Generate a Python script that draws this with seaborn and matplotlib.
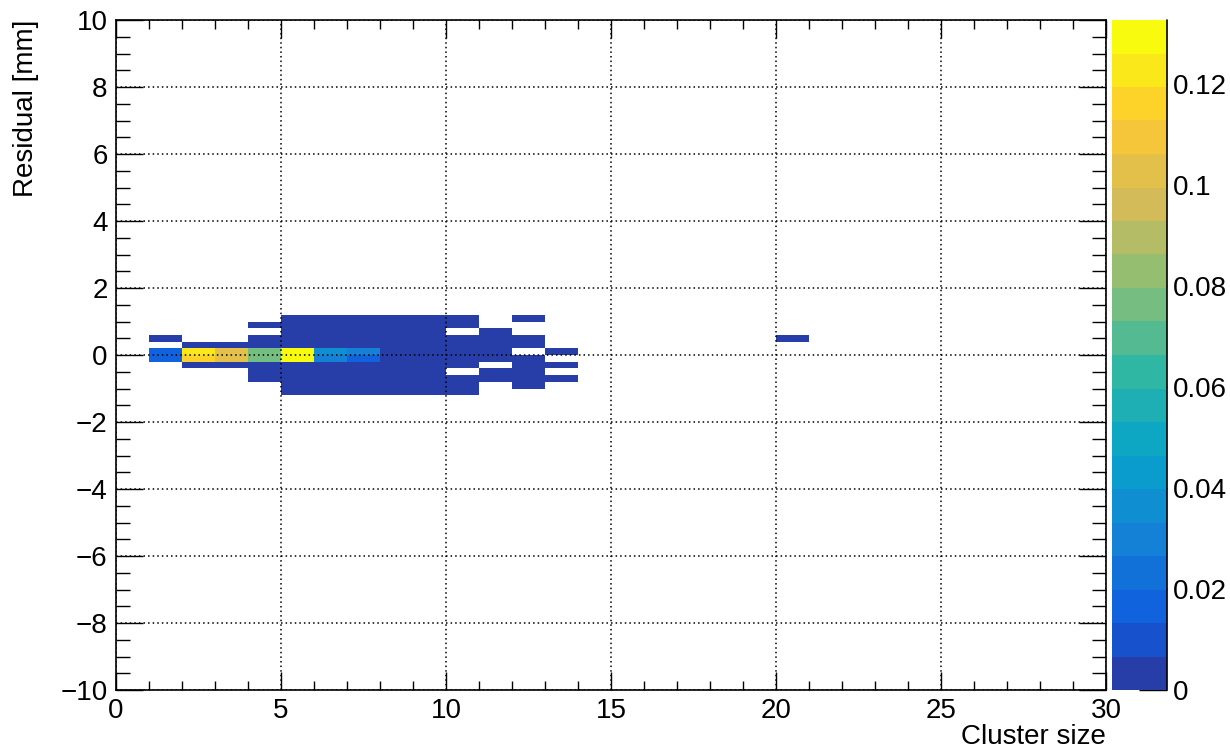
import numpy as np
import pandas as pd
import matplotlib
matplotlib.use("Agg")
import matplotlib.pyplot as plt
import seaborn as sns
from matplotlib.colors import LinearSegmentedColormap, ListedColormap
from matplotlib.ticker import MultipleLocator, FuncFormatter
from matplotlib.lines import Line2D

# ---------------- data (bin centres and bin contents) ----------------
cluster_size = [
    1.5, 1.5, 1.5,
    2.5, 2.5, 2.5, 2.5,
    3.5, 3.5, 3.5, 3.5,
    4.5, 4.5, 4.5, 4.5, 4.5, 4.5, 4.5, 4.5,
    5.5, 5.5, 5.5, 5.5, 5.5, 5.5, 5.5, 5.5, 5.5, 5.5, 5.5, 5.5,
    6.5, 6.5, 6.5, 6.5, 6.5, 6.5, 6.5, 6.5, 6.5, 6.5, 6.5, 6.5,
    7.5, 7.5, 7.5, 7.5, 7.5, 7.5, 7.5, 7.5, 7.5, 7.5, 7.5, 7.5,
    8.5, 8.5, 8.5, 8.5, 8.5, 8.5, 8.5, 8.5, 8.5, 8.5, 8.5, 8.5,
    9.5, 9.5, 9.5, 9.5, 9.5, 9.5, 9.5, 9.5, 9.5, 9.5, 9.5, 9.5,
    10.5, 10.5, 10.5, 10.5, 10.5, 10.5, 10.5, 10.5, 10.5, 10.5,
    11.5, 11.5, 11.5, 11.5, 11.5, 11.5, 11.5,
    12.5, 12.5, 12.5, 12.5, 12.5, 12.5, 12.5, 12.5,
    13.5, 13.5, 13.5,
    20.5,
]
residual = [
    0.5, 0.1, -0.1,
    0.3, 0.1, -0.1, -0.3,
    0.3, 0.1, -0.1, -0.3,
    0.9, 0.5, 0.3, 0.1, -0.1, -0.3, -0.5, -0.7,
    1.1, 0.9, 0.7, 0.5, 0.3, 0.1, -0.1, -0.3, -0.5, -0.7, -0.9, -1.1,
    1.1, 0.9, 0.7, 0.5, 0.3, 0.1, -0.1, -0.3, -0.5, -0.7, -0.9, -1.1,
    1.1, 0.9, 0.7, 0.5, 0.3, 0.1, -0.1, -0.3, -0.5, -0.7, -0.9, -1.1,
    1.1, 0.9, 0.7, 0.5, 0.3, 0.1, -0.1, -0.3, -0.5, -0.7, -0.9, -1.1,
    1.1, 0.9, 0.7, 0.5, 0.3, 0.1, -0.1, -0.3, -0.5, -0.7, -0.9, -1.1,
    1.1, 0.9, 0.5, 0.3, 0.1, -0.1, -0.3, -0.7, -0.9, -1.1,
    0.7, 0.5, 0.3, 0.1, -0.1, -0.5, -0.7,
    1.1, 0.5, 0.3, -0.1, -0.3, -0.5, -0.7, -0.9,
    0.1, -0.3, -0.7,
    0.5,
]
content = [
    0.004, 0.018, 0.016,
    0.003, 0.122, 0.119, 0.003,
    0.005, 0.101, 0.106, 0.004,
    0.002, 0.003, 0.005, 0.076, 0.073, 0.005, 0.003, 0.002,
    0.002, 0.002, 0.003, 0.004, 0.005, 0.131, 0.128, 0.005, 0.004, 0.003, 0.002, 0.002,
    0.002, 0.002, 0.003, 0.004, 0.005, 0.034, 0.031, 0.005, 0.004, 0.003, 0.002, 0.002,
    0.002, 0.002, 0.003, 0.003, 0.004, 0.027, 0.014, 0.004, 0.003, 0.003, 0.002, 0.002,
    0.001, 0.002, 0.002, 0.003, 0.004, 0.006, 0.005, 0.004, 0.003, 0.002, 0.002, 0.001,
    0.001, 0.001, 0.002, 0.002, 0.003, 0.004, 0.004, 0.003, 0.002, 0.002, 0.001, 0.001,
    0.001, 0.001, 0.001, 0.002, 0.003, 0.003, 0.002, 0.001, 0.001, 0.001,
    0.001, 0.001, 0.002, 0.002, 0.002, 0.001, 0.001,
    0.001, 0.001, 0.001, 0.002, 0.001, 0.001, 0.001, 0.001,
    0.001, 0.001, 0.001,
    0.001,
]
colorbar_ticks = [0.0, 0.02, 0.04, 0.06, 0.08, 0.10, 0.12]
z_max = 0.1327

df = pd.DataFrame({"cluster_size": cluster_size,
                   "residual": residual,
                   "content": content})

# histogram binning: 30 bins in cluster size, 100 bins in residual
x_edges = np.linspace(0, 30, 31)
y_edges = np.linspace(-10, 10, 101)

# ---------------- ROOT "kBird" palette, 20 contour levels ----------------
stops = [0.0, 0.125, 0.25, 0.375, 0.5, 0.625, 0.75, 0.875, 1.0]
red = [0.2082, 0.0592, 0.0780, 0.0232, 0.1802, 0.5301, 0.8186, 0.9956, 0.9764]
green = [0.1664, 0.3599, 0.5041, 0.6419, 0.7178, 0.7492, 0.7328, 0.7862, 0.9832]
blue = [0.5293, 0.8684, 0.8385, 0.7914, 0.6425, 0.4662, 0.3499, 0.1968, 0.0539]
bird = LinearSegmentedColormap.from_list(
    "bird", list(zip(stops, zip(red, green, blue))))
n_levels = 20
level_pos = np.floor((np.arange(n_levels) + 0.99) * 255 / n_levels) / 254.0
cmap = ListedColormap(bird(np.clip(level_pos, 0, 1)))

# ---------------- figure ----------------
sns.set_theme(style="ticks")
plt.rcParams["font.family"] = ["Liberation Sans", "DejaVu Sans"]
plt.rcParams["axes.unicode_minus"] = True

W, H = 1230, 752
fig = plt.figure(figsize=(W / 100, H / 100), dpi=100)
ax = fig.add_axes([116 / W, 62 / H, 990 / W, 670 / H])
cax = fig.add_axes([1112 / W, 62 / H, 55 / W, 670 / H])

sns.histplot(data=df, x="cluster_size", y="residual", weights="content",
             bins=[x_edges, y_edges], cmap=cmap, vmin=0, vmax=z_max,
             cbar=False, ax=ax)
mesh = ax.collections[0]
mesh.set_clim(0, z_max)

FS = 20
ax.set_xlim(0, 30)
ax.set_ylim(-10, 10)
ax.xaxis.set_major_locator(MultipleLocator(5))
ax.xaxis.set_minor_locator(MultipleLocator(1))
ax.yaxis.set_major_locator(MultipleLocator(2))
ax.yaxis.set_minor_locator(MultipleLocator(0.5))
ax.tick_params(which="both", direction="in", top=True, right=True,
               color="black", labelcolor="black", labelsize=FS, width=1.0)
ax.tick_params(axis="y", which="major", length=19.5, pad=6)
ax.tick_params(axis="y", which="minor", length=9.8)
ax.tick_params(axis="x", which="major", length=13, pad=6)
ax.tick_params(axis="x", which="minor", length=6.5)
for sp in ax.spines.values():
    sp.set_visible(True)
    sp.set_color("black")
    sp.set_linewidth(1.2)

ax.grid(True, which="major", color="black", linestyle=(0, (1, 2)),
        linewidth=1.1)
ax.set_axisbelow(False)

ax.set_xlabel("Cluster size", fontsize=FS, color="black", loc="right")
ax.xaxis.set_label_coords(1.0, -0.050)
ax.set_ylabel("Residual [mm]", fontsize=FS, color="black", loc="top")
ax.yaxis.set_label_coords(-0.078, 1.0)

# ---------------- colour bar ----------------
cbar = fig.colorbar(mesh, cax=cax)
cbar.outline.set_visible(False)
cbar.set_ticks(colorbar_ticks)
cax.yaxis.set_major_formatter(FuncFormatter(lambda v, p: f"{v:g}"))
cax.yaxis.set_ticks_position("right")
cax.tick_params(which="major", direction="in", length=20, width=1.0,
                color="black", labelsize=FS, labelcolor="black", pad=4)
cax.minorticks_off()
cax.add_line(Line2D([1, 1], [0, 1], transform=cax.transAxes, color="black",
                    linewidth=1.2, clip_on=False))

fig.savefig("out.png", dpi=100, facecolor="white")
